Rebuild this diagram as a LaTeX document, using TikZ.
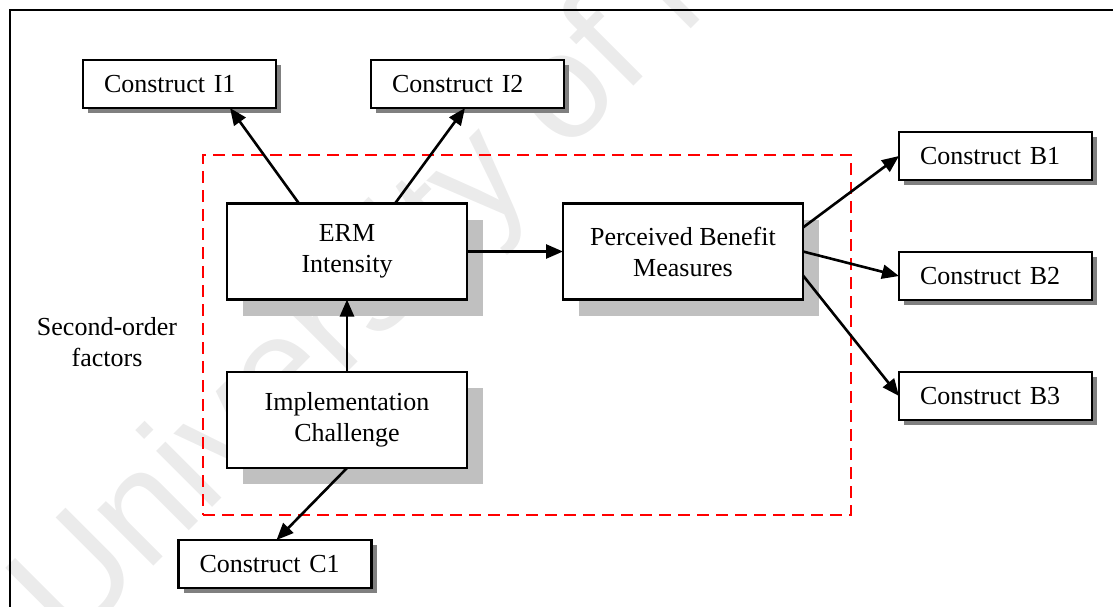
\documentclass[tikz,border=0pt]{standalone}
\usepackage{fontspec}
\setmainfont{Liberation Serif}
\newfontfamily\wmfont{Liberation Sans}
\usetikzlibrary{arrows.meta,shadows,calc}
\definecolor{shadowdark}{HTML}{808080}
\definecolor{shadowlight}{HTML}{C0C0C0}
\definecolor{wmgray}{HTML}{EBEBEB}
\definecolor{dashred}{HTML}{FF0000}
\begin{document}
\begin{tikzpicture}[x=1pt,y=-1pt,
  font=\fontsize{26}{31}\selectfont,
  smallbox/.style={draw, line width=2.5pt, fill=white, minimum height=48pt,
    text width=151pt, inner xsep=21pt, inner ysep=0pt, align=left, outer sep=0pt,
    general shadow={fill=shadowdark, shadow xshift=5pt, shadow yshift=-5pt}},
  bigbox/.style={draw, line width=2.5pt, fill=white, minimum width=240pt,
    minimum height=96pt, align=center, outer sep=0pt,
    general shadow={fill=shadowlight, shadow xshift=16pt, shadow yshift=-16pt}},
  groupbox/.style={draw=dashred, line width=2.5pt, dash pattern=on 12pt off 7pt,
    minimum width=648pt, minimum height=360pt, inner sep=0pt, outer sep=0pt},
  conn/.style={line width=2.6pt, -{Triangle[length=17pt,width=14pt]}},
  watermark/.style={font=\wmfont\fontsize{150}{150}\selectfont, text=wmgray,
    rotate=45, anchor=base west, inner sep=0pt},
]
\useasboundingbox (0,0) rectangle (1113,606);
\begin{scope}
  \clip (0,0) rectangle (1113,606);
  \node[watermark] (wm) at (70,650) {University of Malaya};
  \draw[line width=2.5pt] (10,10) rectangle (1130,630);
\end{scope}

\node[groupbox] (group) at (527,335) {};

\node[smallbox] (i1) at (179.5,84) {Construct I1};
\node[smallbox] (i2) at (467.5,84) {Construct I2};
\node[smallbox] (b1) at (995.5,156) {Construct B1};
\node[smallbox] (b2) at (995.5,276) {Construct B2};
\node[smallbox] (b3) at (995.5,396) {Construct B3};
\node[smallbox] (c1) at (275,564) {Construct C1};

\node[bigbox] (erm) at (347,251.5) {ERM\\Intensity};
\node[bigbox] (pbm) at (683,251.5) {Perceived Benefit\\Measures};
\node[bigbox] (ic) at (347,420) {Implementation\\Challenge};

\node[align=center, inner sep=0pt] (lbl) at (107,342) {Second-order\\factors};

\draw[conn] ($(erm.north west)+(72,0)$) -- ($(i1.south west)+(147,0)$);
\draw[conn] ($(erm.north west)+(168,0)$) -- ($(i2.south west)+(94,0)$);
\draw[conn] (erm.east) -- (pbm.west);
\draw[conn] (ic.north) -- (erm.south);
\draw[conn] (ic.south) -- ($(c1.north west)+(98,0)$);
\draw[conn] ($(pbm.north east)+(0,24)$) -- (b1.west);
\draw[conn] (pbm.east) -- (b2.west);
\draw[conn] ($(pbm.south east)+(0,-24)$) -- (b3.west);
\end{tikzpicture}
\end{document}
